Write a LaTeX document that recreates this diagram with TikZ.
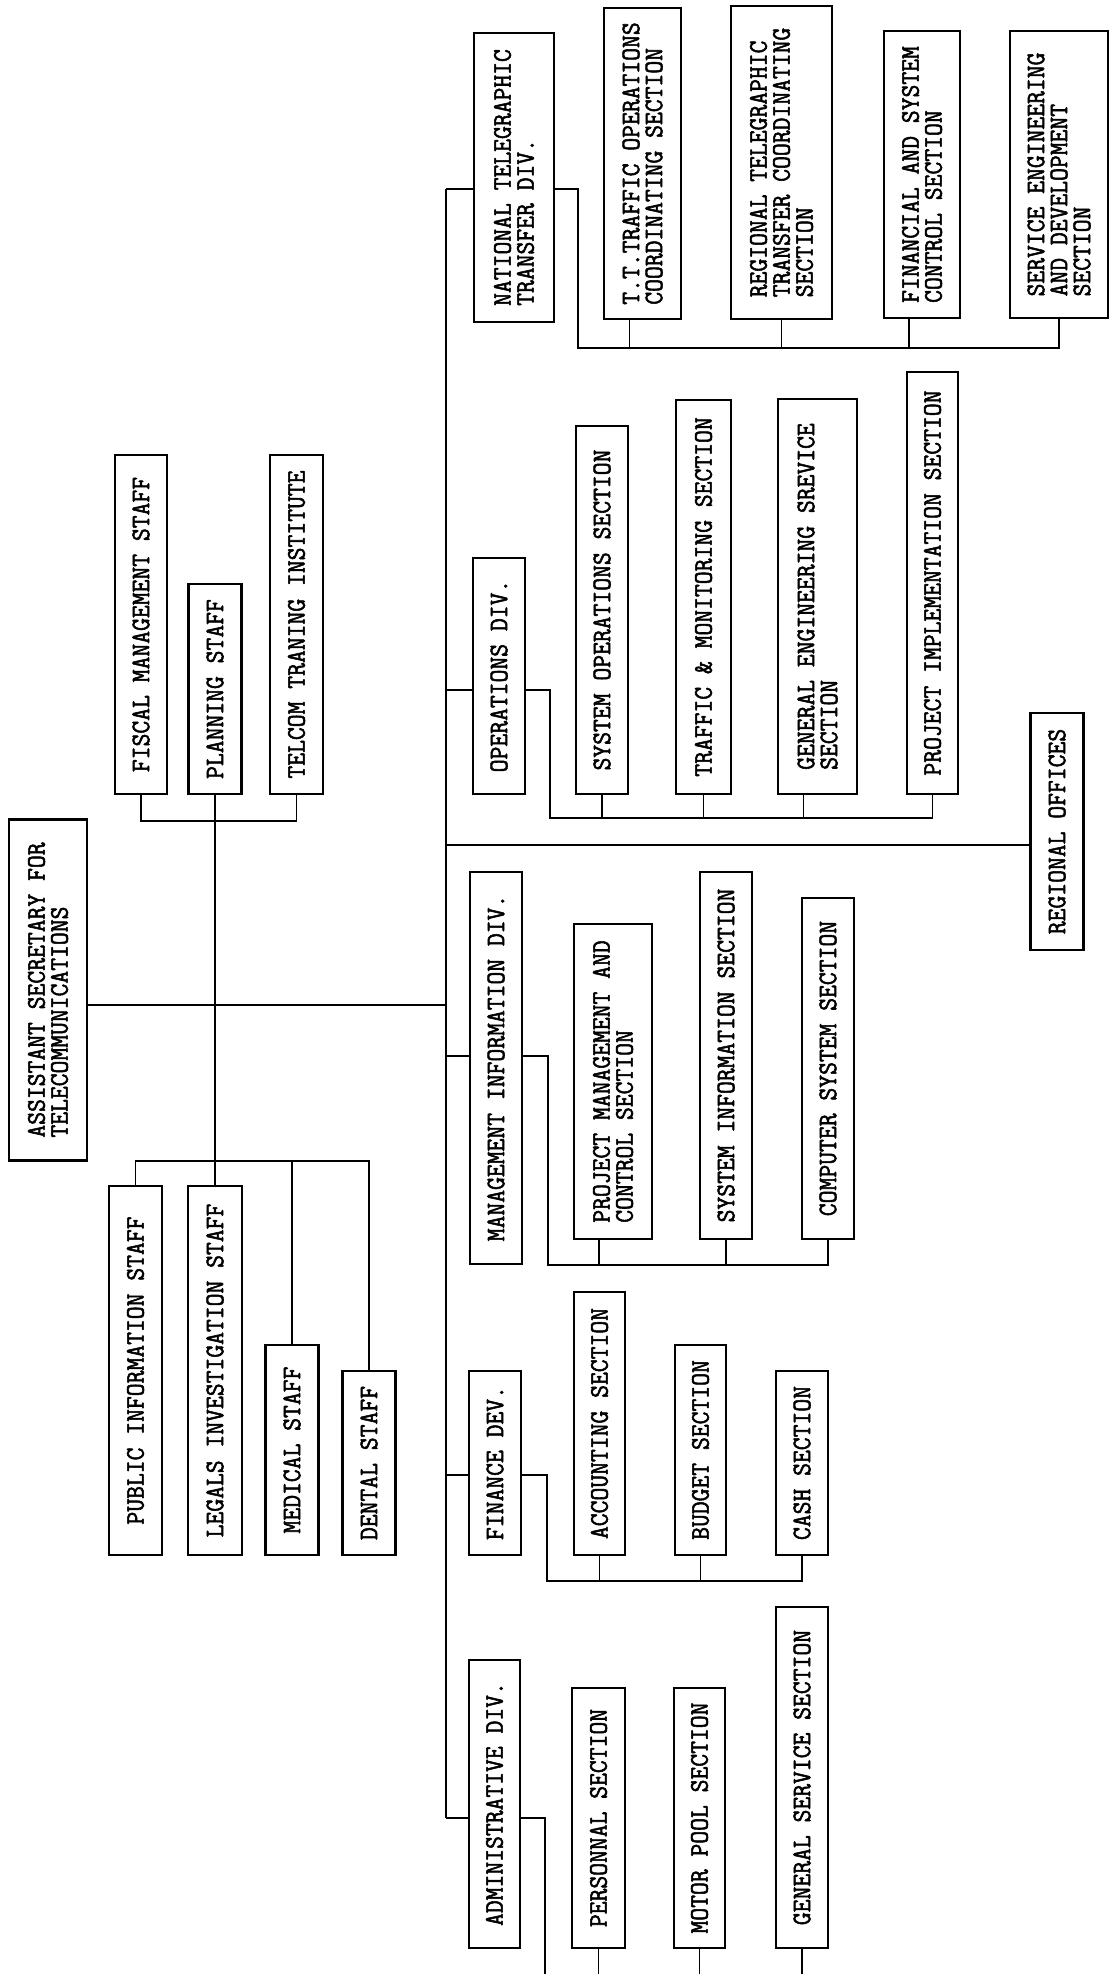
\documentclass[tikz,border=0pt]{standalone}
\usepackage{fontspec}
\usepackage{tikz}
\newfontfamily\orgfont{Latin Modern Mono}[FakeStretch=0.93,FakeBold=2]
\tikzset{
  every picture/.style={line join=miter, line cap=butt},
  orgbox/.style={draw, line width=1.1pt, rotate=90, align=left, inner sep=0pt,
    font=\orgfont\fontsize{13.4pt}{11.5pt}\selectfont},
  link/.style={line width=0.8pt},
  trunk/.style={line width=1.2pt},
}

\begin{document}
\begin{tikzpicture}[x=0.5pt,y=-0.5pt]
\useasboundingbox (0,0) rectangle (1110,1974);
\node[orgbox,minimum width=170.5pt,minimum height=39pt] (asst) at (48,990) {ASSISTANT SECRETARY FOR\\TELECOMMUNICATIONS};
\node[orgbox,minimum width=169.5pt,minimum height=26pt] (fiscal) at (141,624.5) {FISCAL MANAGEMENT STAFF};
\node[orgbox,minimum width=105pt,minimum height=26.5pt] (planning) at (215,689) {PLANNING STAFF};
\node[orgbox,minimum width=169.5pt,minimum height=26.5pt] (telcom) at (296.5,624.5) {TELCOM TRANING INSTITUTE};
\node[orgbox,minimum width=184.5pt,minimum height=26.5pt] (public) at (135.5,1370.5) {PUBLIC INFORMATION STAFF};
\node[orgbox,minimum width=184.5pt,minimum height=27pt] (legals) at (215,1370.5) {LEGALS INVESTIGATION STAFF};
\node[orgbox,minimum width=105pt,minimum height=26.5pt] (medical) at (292,1450) {MEDICAL STAFF};
\node[orgbox,minimum width=92pt,minimum height=26.5pt] (dental) at (369,1463) {DENTAL STAFF};
\node[orgbox,minimum width=144.5pt,minimum height=40pt] (ntt) at (514,177.5) {NATIONAL TELEGRAPHIC\\TRANSFER DIV.};
\node[orgbox,minimum width=118pt,minimum height=26pt] (ops) at (499,676) {OPERATIONS DIV.};
\node[orgbox,minimum width=196pt,minimum height=26pt] (mid) at (496,1068) {MANAGEMENT INFORMATION DIV.};
\node[orgbox,minimum width=92pt,minimum height=26pt] (fin) at (495,1463) {FINANCE DEV.};
\node[orgbox,minimum width=144pt,minimum height=25.5pt] (admin) at (494.5,1804) {ADMINISTRATIVE DIV.};
\node[orgbox,minimum width=155.5pt,minimum height=38.5pt] (tt) at (642.5,163.5) {T.T.TRAFFIC OPERATIONS\\COORDINATING SECTION};
\node[orgbox,minimum width=156.5pt,minimum height=50.5pt] (rtt) at (781.5,162.5) {REGIONAL TELEGRAPHIC\\TRANSFER COORDINATING\\SECTION};
\node[orgbox,minimum width=143.5pt,minimum height=38pt] (fsc) at (922,174.5) {FINANCIAL AND SYSTEM\\CONTROL SECTION};
\node[orgbox,minimum width=143.5pt,minimum height=49pt] (sed) at (1059,174.5) {SERVICE ENGINEERING\\AND DEVELOPMENT\\SECTION};
\node[orgbox,minimum width=184pt,minimum height=26pt] (sos) at (602,610) {SYSTEM OPERATIONS SECTION};
\node[orgbox,minimum width=197pt,minimum height=27.5pt] (tms) at (703.5,597) {TRAFFIC \& MONITORING SECTION};
\node[orgbox,minimum width=197.5pt,minimum height=39.5pt] (ges) at (817.5,596.5) {GENERAL ENGINEERING SREVICE\\SECTION};
\node[orgbox,minimum width=211pt,minimum height=25.5pt] (pis) at (932.5,583) {PROJECT IMPLEMENTATION SECTION};
\node[orgbox,minimum width=118.5pt,minimum height=26.5pt] (reg) at (1057,831.5) {REGIONAL OFFICES};
\node[orgbox,minimum width=157.5pt,minimum height=39pt] (pmc) at (613,1081.5) {PROJECT MANAGEMENT AND\\CONTROL SECTION};
\node[orgbox,minimum width=183.5pt,minimum height=26pt] (sis) at (726,1055.5) {SYSTEM INFORMATION SECTION};
\node[orgbox,minimum width=170.5pt,minimum height=26pt] (css) at (828,1068.5) {COMPUTER SYSTEM SECTION};
\node[orgbox,minimum width=131.5pt,minimum height=25.5pt] (acc) at (599.5,1423.5) {ACCOUNTING SECTION};
\node[orgbox,minimum width=105pt,minimum height=25.5pt] (bud) at (700.5,1450) {BUDGET SECTION};
\node[orgbox,minimum width=92pt,minimum height=26pt] (cash) at (802,1463) {CASH SECTION};
\node[orgbox,minimum width=130pt,minimum height=26.5pt] (per) at (598.5,1818) {PERSONNAL SECTION};
\node[orgbox,minimum width=130pt,minimum height=25.5pt] (mps) at (699.5,1818) {MOTOR POOL SECTION};
\node[orgbox,minimum width=170.5pt,minimum height=26pt] (gss) at (802,1777.5) {GENERAL SERVICE SECTION};
\coordinate (ntop) at (446,189);
\coordinate (nops) at (446,690);
\coordinate (nreg) at (446,845);
\coordinate (hub) at (446,1005);
\coordinate (nmid) at (446,1056);
\coordinate (nfin) at (446,1475);
\coordinate (nadm) at (446,1818);
\coordinate (tbar) at (215,821);
\coordinate (sbar) at (215,1161);
\coordinate (nb) at (578,348);
\coordinate (ob) at (550,818);
\coordinate (mb) at (548,1265);
\coordinate (fb) at (547,1581);
\coordinate (ab) at (545,1974);
\coordinate (ttc) at ([xshift=-6.5pt]tt.west);
\coordinate (fscc) at ([xshift=-6.5pt]fsc.west);
\coordinate (gesc) at ([xshift=-7pt]ges.west);
\coordinate (pmcc) at ([xshift=-7pt]pmc.west);
\draw[trunk] (ntop) -- (nadm);
\draw[link] (ntop) -- (ntop -| ntt.north);
\draw[link] (nops) -- (nops -| ops.north);
\draw[link] (nreg) -- (nreg -| reg.north);
\draw[link] (hub) -- (hub -| asst.south);
\draw[link] (nmid) -- (nmid -| mid.north);
\draw[link] (nfin) -- (nfin -| fin.north);
\draw[link] (nadm) -- (nadm -| admin.north);
\draw[link] (fiscal.west) |- (tbar) -| (telcom.west);
\draw[trunk] (planning.west) -- (legals.east);
\draw[link] (public.east) |- (sbar) -| (dental.east);
\draw[link] (medical.east) -- (medical.east |- sbar);
\draw[link] (ntop -| ntt.south) -| (nb) -| (sed.west);
\draw[link] (ttc) -- (ttc |- nb);
\draw[link] (rtt.west) -- (rtt.west |- nb);
\draw[link] (fscc) -- (fscc |- nb);
\draw[link] (nops -| ops.south) -| (ob) -| (pis.west);
\draw[link] (sos.west) -- (sos.west |- ob);
\draw[link] (tms.west) -- (tms.west |- ob);
\draw[link] (gesc) -- (gesc |- ob);
\draw[link] (nmid -| mid.south) -| (mb) -| (css.west);
\draw[link] (pmcc) -- (pmcc |- mb);
\draw[link] (sis.west) -- (sis.west |- mb);
\draw[link] (nfin -| fin.south) -| (fb) -| (cash.west);
\draw[link] (acc.west) -- (acc.west |- fb);
\draw[link] (bud.west) -- (bud.west |- fb);
\draw[link] (nadm -| admin.south) -| (ab);
\draw[link] (per.west) -- (per.west |- ab);
\draw[link] (mps.west) -- (mps.west |- ab);
\draw[link] (gss.west) -- (gss.west |- ab);
\end{tikzpicture}
\end{document}
